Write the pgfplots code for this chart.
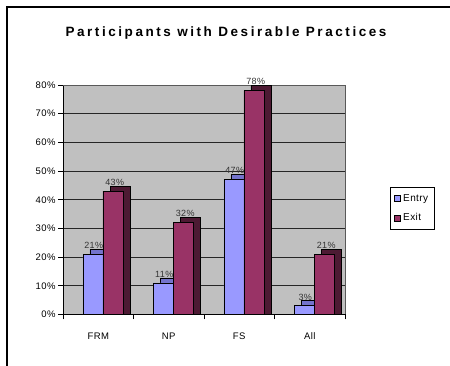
\documentclass[border=0pt]{standalone}
\usepackage{fontspec}
\setmainfont{Liberation Sans}
\newfontfamily\titlefont[LetterSpace=19]{Liberation Sans}
\newfontfamily\smallfont[LetterSpace=4]{Liberation Sans}
\usepackage{pgfplots}
\usepackage{pgfplotstable}
\pgfplotsset{compat=1.18}
\definecolor{entryc}{HTML}{9999FF}
\definecolor{entrytop}{HTML}{7373CC}
\definecolor{exitc}{HTML}{993366}
\definecolor{exitside}{HTML}{4D1A33}
\definecolor{wallc}{HTML}{C0C0C0}
\pgfplotstableread{
x entry exit
1 21 43
2 11 32
3 47 78
4 3 21
}\datatable
\begin{document}
\begin{tikzpicture}
\useasboundingbox (0,0) rectangle (450pt,366pt);
\draw[black, line width=1.2pt] (7pt,0) -- (7pt,359pt) -- (450pt,359pt);
\node[font=\titlefont\bfseries\fontsize{13.5}{15}\selectfont] at (226pt,333pt) {Participants with Desirable Practices};
\begin{axis}[
  at={(63pt,51.5pt)}, anchor=south west,
  width=282pt, height=229.5pt, scale only axis,
  xmin=0.5, xmax=4.5, ymin=0, ymax=80,
  axis background/.style={fill=wallc},
  axis x line=bottom, axis y line=left,
  axis line style={-, black, line width=0.8pt},
  xtick={0.5,1.5,2.5,3.5,4.5}, xticklabels={},
  extra x ticks={1,2,3,4}, extra x tick labels={FRM,NP,FS,All},
  extra x tick style={major tick length=0pt, grid=none},
  ytick={0,10,...,80},
  yticklabel={\pgfmathprintnumber{\tick}\%},
  /pgf/number format/assume math mode=true,
  ymajorgrids, major grid style={black!85, line width=0.7pt},
  tick style={black, line width=0.7pt},
  major tick length=5pt,
  tick align=outside,
  clip=false,
  xticklabel style={font=\smallfont\fontsize{9.5}{11}\selectfont, yshift=-15pt},
  yticklabel style={font=\smallfont\fontsize{9.5}{11}\selectfont, xshift=1pt},
  legend style={at={(1.16,0.556)}, anchor=north west, draw=black, line width=0.6pt,
    font=\smallfont\fontsize{10}{12}\selectfont, row sep=7pt, inner xsep=4pt, inner ysep=5pt},
  legend cell align=left,
]
\draw[gray!70!black, line width=0.8pt] (rel axis cs:0,1) -- (rel axis cs:1,1) -- (rel axis cs:1,0);
% depth faces
\addplot[ybar, bar width=20pt, bar shift=1.75pt, fill=entrytop, draw=black, line width=0.8pt, forget plot]
  table[x=x, y expr=\thisrow{entry}+1.74] {\datatable};
\addplot[ybar, bar width=20pt, bar shift=21.75pt, fill=exitside, draw=black, line width=0.8pt, forget plot]
  table[x=x, y expr=\thisrow{exit}+1.74] {\datatable};
% front faces
\addplot[ybar, bar width=20pt, bar shift=-5.25pt, fill=entryc, draw=black, line width=0.8pt,
  legend image code/.code={\draw[fill=entryc, draw=black, line width=0.8pt] (0pt,-3pt) rectangle (6pt,3pt);}]
  table[x=x, y=entry] {\datatable};
\addlegendentry{Entry}
\addplot[ybar, bar width=20pt, bar shift=14.75pt, fill=exitc, draw=black, line width=0.8pt,
  legend image code/.code={\draw[fill=exitc, draw=black, line width=0.8pt] (0pt,-3pt) rectangle (6pt,3pt);}]
  table[x=x, y=exit] {\datatable};
\addlegendentry{Exit}
% value labels
\addplot[draw=none, mark=none, forget plot,
  nodes near coords={\pgfmathprintnumber{\pgfplotspointmeta}\%},
  nodes near coords style={font=\smallfont\fontsize{9}{10}\selectfont, text=black!80, anchor=south, inner sep=1pt, xshift=-4.5pt, yshift=4.5pt}]
  table[x=x, y=entry] {\datatable};
\addplot[draw=none, mark=none, forget plot,
  nodes near coords={\pgfmathprintnumber{\pgfplotspointmeta}\%},
  nodes near coords style={font=\smallfont\fontsize{9}{10}\selectfont, text=black!80, anchor=south, inner sep=1pt, xshift=16.5pt, yshift=4.5pt}]
  table[x=x, y=exit] {\datatable};
\end{axis}
\end{tikzpicture}
\end{document}
